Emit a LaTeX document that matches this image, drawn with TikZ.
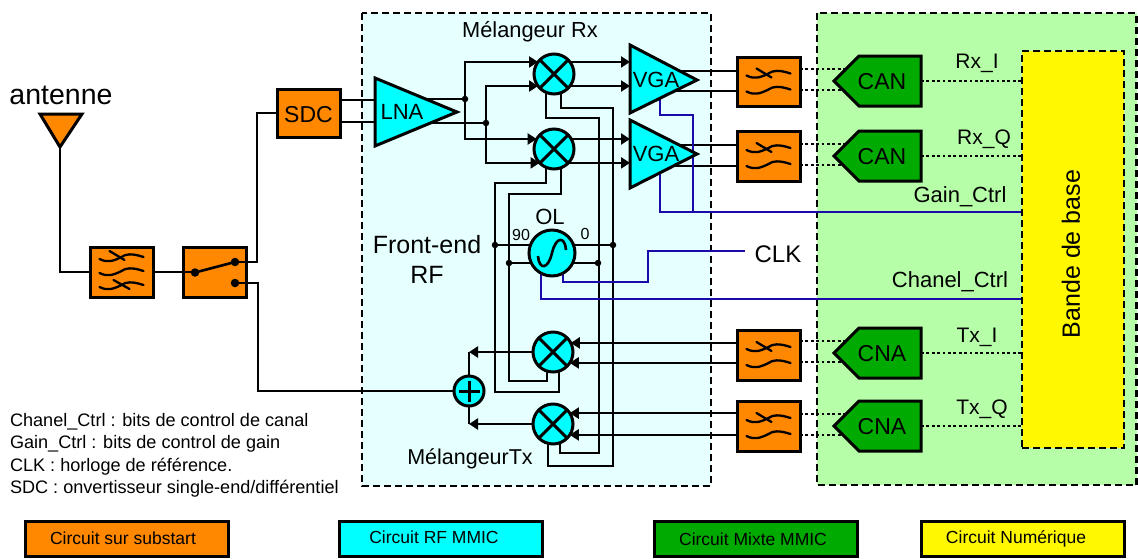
\documentclass[tikz,border=0pt]{standalone}
\usepackage{fontspec}
\setmainfont{Liberation Sans}
\usetikzlibrary{arrows.meta,shapes.geometric}
\definecolor{orangeC}{HTML}{FF8800}
\definecolor{cyanC}{HTML}{00FFFF}
\definecolor{greenC}{HTML}{00AA00}
\definecolor{panelC}{HTML}{E6FFFF}
\definecolor{panelG}{HTML}{B6FFA8}
\definecolor{yellowC}{HTML}{FFF800}
\definecolor{blueC}{HTML}{1A0AAA}
\pgfdeclarelayer{panelLayer}
\pgfdeclarelayer{wireLayer}
\pgfsetlayers{panelLayer,wireLayer,main}
\tikzset{
  fs/.style={font=\fontsize{#1}{#1}\selectfont},
  lbl/.style={fs=22,inner sep=0pt,outer sep=0pt},
  txt/.style={fs=21.8,inner sep=0pt,outer sep=0pt},
  note/.style={fs=18.1,inner sep=0pt,outer sep=0pt,anchor=base west},
  legtxt/.style={fs=17.5,inner sep=0pt,outer sep=0pt},
  wire/.style={line width=2.6pt,black,line join=miter},
  arrowed/.style={wire,-{Triangle[length=9pt,width=11pt]}},
  ctrl/.style={line width=2.6pt,blueC},
  dotline/.style={line width=2.8pt,black,dash pattern=on 2.8pt off 2.6pt},
  panel/.style={line width=2.8pt,black,dash pattern=on 7pt off 4pt},
  shapeline/.style={line width=3pt,black,line join=miter},
  mix/.style={circle,draw,shapeline,fill=cyanC,minimum size=40pt,inner sep=0pt,outer sep=0pt},
  orbox/.style={rectangle,draw,shapeline,fill=orangeC,inner sep=0pt,outer sep=0pt},
  junct/.style={circle,fill=black,minimum size=6.5pt,inner sep=0pt,outer sep=0pt},
  contact/.style={circle,fill=black,minimum size=8.5pt,inner sep=0pt,outer sep=0pt},
  legbox/.style={rectangle,draw,line width=3pt,minimum width=203pt,minimum height=35pt,inner sep=0pt,outer sep=0pt},
  wavethree/.pic={
    \foreach \d in {-14,0,14}{
      \draw[line width=2.3pt,line cap=round] (-22,1+\d) .. controls (-14,5+\d) and (-8,3+\d) .. (0,-1+\d) .. controls (4,-4+\d) and (10,-5+\d) .. (22,-1+\d);}
    \draw[line width=2.3pt,line cap=round] (-12,-21) -- (3,-12);
    \draw[line width=2.3pt,line cap=round] (-8,8) -- (8,17);
  },
  wavetwo/.pic={
    \foreach \d in {-7,9}{
      \draw[line width=2.3pt,line cap=round] (-22,1+\d) .. controls (-14,5+\d) and (-8,3+\d) .. (0,-1+\d) .. controls (4,-4+\d) and (10,-5+\d) .. (22,-1+\d);}
    \draw[line width=2.3pt,line cap=round] (-12,-13) -- (3,-4);
  }
}
\begin{document}
\begin{tikzpicture}[x=1pt,y=-1pt]
\useasboundingbox (0,0) rectangle (1138,558);

% ---------- panels
\begin{pgfonlayer}{panelLayer}
  \draw[panel,fill=panelC] (362,13) rectangle (711,486);
  \draw[panel,fill=panelG] (817,13) rectangle (1136.6,485);
\end{pgfonlayer}

% ---------- blocks
\draw[shapeline,fill=orangeC] (40,114) -- (82,114) -- (60,147) coordinate (antApex) -- cycle;
\node[txt,fs=28.5] (ant) at (61,95) {antenne};

\node[orbox,minimum width=63pt,minimum height=50pt] (f1) at (121.5,272) {};
\pic at (f1) {wavethree};
\node[orbox,minimum width=63pt,minimum height=50pt] (sw) at (214.5,272) {};
\node[contact] (swC) at (195,272.5) {};
\node[contact] (swA) at (235,262) {};
\node[contact] (swB) at (235,283) {};
\node[orbox,minimum width=63pt,minimum height=48pt] (sdc) at (308.5,113) {};
\node[lbl,fs=23] (sdcT) at (308.5,114.5) {SDC};

\draw[shapeline,fill=cyanC] (375,78) -- (375,146) -- (457,112) -- cycle;
\node[lbl] (lna) at (402,112) {LNA};
\draw[shapeline,fill=cyanC] (630,45) -- (630,113) -- (697,80) -- cycle;
\node[lbl] (vga1) at (656,80) {VGA};
\draw[shapeline,fill=cyanC] (630,120) -- (630,188) -- (697,154) -- cycle;
\node[lbl] (vga2) at (656,154) {VGA};

\node[mix] (mrx1) at (554,74) {};
\node[mix] (mrx2) at (554,149) {};
\node[mix] (mtx1) at (553,352) {};
\node[mix] (mtx2) at (553,424) {};
\foreach \m in {mrx1,mrx2,mtx1,mtx2}{
  \draw[shapeline] (\m.45) -- (\m.225);
  \draw[shapeline] (\m.135) -- (\m.315);
}
\node[mix,minimum size=30pt] (sum) at (469,391) {};
\draw[shapeline] (458.5,391) -- (479.5,391);
\draw[shapeline] (469,380.5) -- (469,401.5);
\node[mix,minimum size=46pt] (ol) at (552,253) {};
\draw[line width=2.6pt,shift={(552,253)}] (-14,3) .. controls (-13,17) and (-4,17) .. (0,0) .. controls (4,-17) and (13,-17) .. (14,-3);

\node[junct] (j1) at (465,99) {};
\node[junct] (j2) at (486,123) {};
\node[junct] (j3) at (495,245) {};
\node[junct] (j4) at (613,245) {};
\node[junct] (j5) at (509,263) {};
\node[junct] (j6) at (598,263) {};

\node[orbox,minimum width=63pt,minimum height=49pt] (f3) at (768.5,81.5) {};
\node[orbox,minimum width=63pt,minimum height=50pt] (f4) at (768.5,156) {};
\node[orbox,minimum width=63pt,minimum height=50pt] (f5) at (768.5,355) {};
\node[orbox,minimum width=63pt,minimum height=50pt] (f6) at (768.5,426) {};
\foreach \f in {f3,f4,f5,f6}{ \pic at (\f) {wavetwo}; }

\node[rectangle,draw,panel,fill=yellowC,minimum width=102pt,minimum height=397pt,inner sep=0pt,outer sep=0pt] (base) at (1073,249.5) {};
\node[rotate=90,fs=25,inner sep=0pt] (baseT) at (1071,254) {Bande de base};

\foreach \c/\y/\t in {c1/81/CAN,c2/156/CAN,c3/353/CNA,c4/426/CNA}{
  \draw[shapeline,fill=greenC] (834,\y) -- (859,\y-25) -- (921,\y-25) -- (921,\y+25) -- (859,\y+25) -- cycle;
  \node[lbl,fs=23] (\c) at (882,\y+1) {\t};
  \coordinate (\c e) at (921,\y);
  \coordinate (\c a) at (846,\y-12);
  \coordinate (\c b) at (846,\y+9);
}

% ---------- free-end and bend points
\coordinate (lnaInA) at (375,100);
\coordinate (lnaInB) at (375,122);
\coordinate (lnaOutA) at (426,99);
\coordinate (lnaOutB) at (430,123);
\coordinate (v1edge) at (630,80);
\coordinate (v2edge) at (630,154);
\coordinate (v1a) at (680,71);
\coordinate (v1b) at (675,91);
\coordinate (v2a) at (680,145);
\coordinate (v2b) at (675,166);
\coordinate (v1ctl) at (660,98);
\coordinate (v1bend) at (693,115);
\coordinate (v2ctl) at (660,172);
\coordinate (gainY) at (693,212);
\coordinate (chanY) at (700,299);
\coordinate (clkA) at (648,282);
\coordinate (clkEnd) at (745,251);
\coordinate (r1a) at (599,118);
\coordinate (r1b) at (599,453);
\coordinate (r2a) at (613,108);
\coordinate (r2b) at (613,466);
\coordinate (r3a) at (495,183);
\coordinate (r3b) at (495,392);
\coordinate (r4a) at (509,194);
\coordinate (r4b) at (509,381);
\coordinate (sumT) at (469,352);
\coordinate (sumB) at (469,424);
\coordinate (bendA) at (257,200);
\coordinate (bendB) at (258,340);

% ---------- wires under the blocks
\begin{pgfonlayer}{wireLayer}
  \draw[wire] (sdc.east |- lnaInA) -- (lnaInA);
  \draw[wire] (sdc.east |- lnaInB) -- (lnaInB);
  \draw[wire] (lnaOutA) -- (j1);
  \draw[wire] (lnaOutB) -- (j2);
  \draw[arrowed] (j1.center) |- (mrx1.143);
  \draw[arrowed] (j1.center) |- (mrx2.150);
  \draw[arrowed] (j2.center) |- (mrx1.217);
  \draw[arrowed] (j2.center) |- (mrx2.224);
  \draw[arrowed] (mrx1.37) -- (mrx1.37 -| v1edge);
  \draw[arrowed] (mrx1.323) -- (mrx1.323 -| v1edge);
  \draw[arrowed] (mrx2.30) -- (mrx2.30 -| v2edge);
  \draw[arrowed] (mrx2.316) -- (mrx2.316 -| v2edge);
  \draw[wire] (v1a) -- (v1a -| f3.west);
  \draw[wire] (v1b) -- (v1b -| f3.west);
  \draw[wire] (v2a) -- (v2a -| f4.west);
  \draw[wire] (v2b) -- (v2b -| f4.west);
  % local oscillator
  \draw[wire] (j3.center) -- (j4.center);
  \draw[wire] (j5.center) -- (j6.center);
  \draw[wire] (mrx1.246) |- (r1a) -- (r1b) -| (mtx2.290);
  \draw[wire] (mrx1.290) |- (r2a) -- (r2b) -| (mtx2.255);
  \draw[wire] (mrx2.246) |- (r3a) -- (r3b) -| (mtx1.288);
  \draw[wire] (mrx2.290) |- (r4a) -- (r4b) -| (mtx1.252);
  % transmit path
  \draw[arrowed] (mtx1.27 -| f5.west) -- (mtx1.27);
  \draw[arrowed] (mtx1.327 -| f5.west) -- (mtx1.327);
  \draw[arrowed] (mtx2.33 -| f6.west) -- (mtx2.33);
  \draw[arrowed] (mtx2.327 -| f6.west) -- (mtx2.327);
  \draw[arrowed] (mtx1.west) -- (sumT);
  \draw[arrowed] (mtx2.west) -- (sumB);
  \draw[wire] (sumT) -- (sum.north);
  \draw[wire] (sumB) -- (sum.south);
  % control lines
  \draw[ctrl] (v1ctl) |- (v1bend) -- (gainY);
  \draw[ctrl] (v2ctl) |- (gainY -| base.west);
  \draw[ctrl] (ol.299) |- (clkA) |- (clkEnd);
  \draw[ctrl] (ol.241) |- (chanY -| base.west);
  % dotted links
  \foreach \f/\c in {f3/c1,f4/c2,f5/c3,f6/c4}{
    \draw[dotline] (\f.east |- \c a) -- (\c a);
    \draw[dotline] (\f.east |- \c b) -- (\c b);
    \draw[dotline] (\c e) -- (\c e -| base.west);
  }
\end{pgfonlayer}

% ---------- wires over the substrate blocks
\draw[wire] (antApex) |- (f1.west);
\draw[wire] (f1.east) -- (f1.east -| swC);
\draw[wire,line cap=round] (swC) -- (swA);
\draw[wire] (swA) -| (bendA) |- (sdc.west);
\draw[wire] (swB) -| (bendB) |- (sum.west);

% ---------- labels
\node[txt] (tMixRx) at (530,31.5) {Mélangeur Rx};
\node[txt,fs=21.5] (tMixTx) at (470,459) {MélangeurTx};
\node[txt,fs=25] (tFe) at (427,245) {Front-end};
\node[txt,fs=25] (tRf) at (427,275) {RF};
\node[txt,fs=22] (tOl) at (550,217) {OL};
\node[fs=16,inner sep=0pt] (t90) at (521,235) {90};
\node[fs=16,inner sep=0pt] (t0) at (585,234) {0};
\node[lbl,fs=24] (clk) at (778,254) {CLK};
\node[txt,fs=21] (tRxI) at (977,63) {Rx\_I};
\node[txt,fs=21] (tRxQ) at (984,139) {Rx\_Q};
\node[txt,fs=22] (tGain) at (960,197) {Gain\_Ctrl};
\node[txt,fs=22] (tChan) at (950,282) {Chanel\_Ctrl};
\node[txt,fs=21] (tTxI) at (977,337) {Tx\_I};
\node[txt,fs=21] (tTxQ) at (982,409) {Tx\_Q};

\node[note] (n1) at (10,426) {Chanel\_Ctrl : bits de control de canal};
\node[note] (n2) at (10,448) {Gain\_Ctrl : bits de control de gain};
\node[note] (n3) at (10,471) {CLK : horloge de référence.};
\node[note] (n4) at (10,493) {SDC : onvertisseur single-end/différentiel};

\node[legbox,fill=orangeC] (l1) at (126.5,538.5) {};
\node[legtxt] (l1t) at (123,538) {Circuit sur substart};
\node[legbox,fill=cyanC] (l2) at (441,538.5) {};
\node[legtxt] (l2t) at (434,537) {Circuit RF MMIC};
\node[legbox,fill=greenC] (l3) at (756,538.5) {};
\node[legtxt] (l3t) at (753,539) {Circuit Mixte MMIC};
\node[legbox,fill=yellowC] (l4) at (1022.5,538.5) {};
\node[legtxt] (l4t) at (1016,539) {Circuit Numérique};
\end{tikzpicture}
\end{document}
